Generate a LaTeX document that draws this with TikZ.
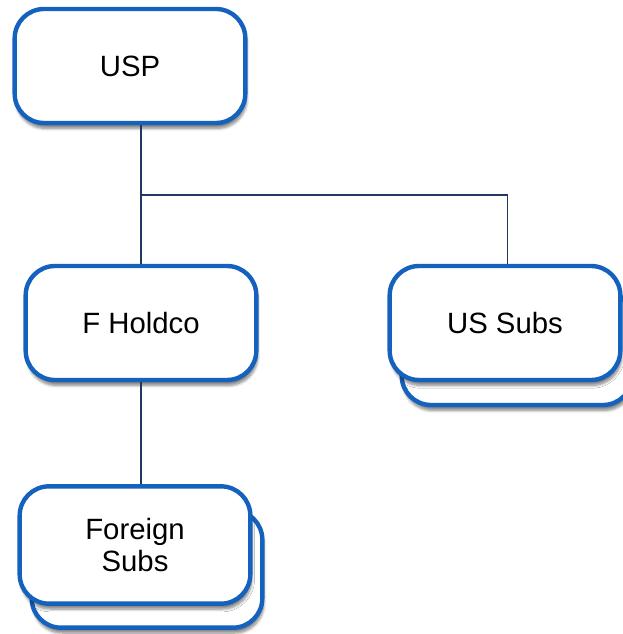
\documentclass[tikz,border=0pt]{standalone}
\usepackage{fontspec}
\setmainfont{Liberation Sans}
\usetikzlibrary{shadows.blur}
\definecolor{boxblue}{RGB}{20,98,190}
\definecolor{linenavy}{RGB}{31,56,100}
\begin{document}
\begin{tikzpicture}[x=0.75pt,y=-0.75pt,
  entity/.style={draw=boxblue, line width=3.3pt, fill=white, rounded corners=22pt,
    minimum width=173pt, minimum height=85.5pt, align=center, inner sep=0pt,
    font=\fontsize{22}{24}\selectfont,
    blur shadow={shadow xshift=1pt, shadow yshift=-4pt, shadow blur steps=6, shadow opacity=50}},
  link/.style={draw=linenavy, line width=1.5pt}]
  \useasboundingbox (0,0) rectangle (623,634);

  % entities
  \node[entity] (usp) at (130,66) {USP};
  \node[entity] (fholdco) at (141,323) {F Holdco};
  \node[entity] (ussubsback) at (517,348) {};
  \node[entity] (ussubs) at (505,323) {US Subs};
  \node[entity, minimum height=88pt] (foreignback) at (147,569) {};
  \node[entity, minimum height=88pt] (foreign) at (135,545) {Foreign\\Subs};

  % ownership lines
  \coordinate (fork) at (141,195);
  \draw[link] (fholdco.north |- usp.south) -- (fholdco.north);
  \draw[link, line width=1.2pt] (fork) -| ([xshift=2pt]ussubs.north);
  \draw[link] (fholdco.south) -- (fholdco.south |- foreign.north);
\end{tikzpicture}
\end{document}
